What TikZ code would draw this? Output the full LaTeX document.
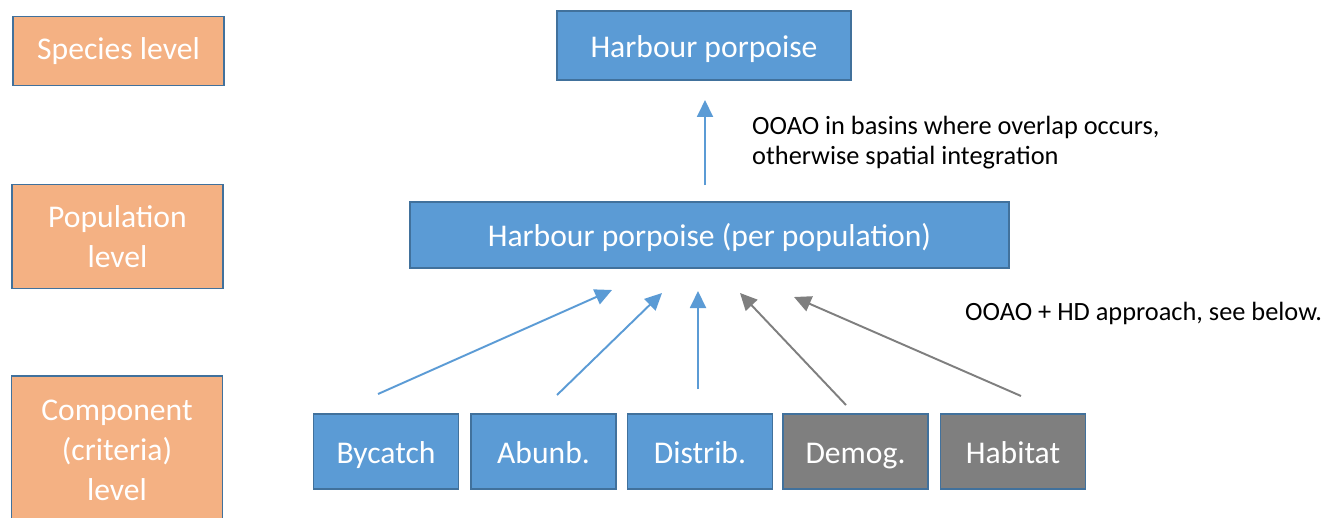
\documentclass[tikz,border=0pt]{standalone}
\usepackage{fontspec}
\setmainfont{Carlito}
\usetikzlibrary{arrows.meta,positioning}
\definecolor{boxblue}{HTML}{5B9BD5}
\definecolor{edgeblue}{HTML}{41719C}
\definecolor{levelorange}{HTML}{F4B183}
\definecolor{boxgray}{HTML}{7F7F7F}

\begin{document}
\begin{tikzpicture}[x=0.02cm,y=-0.02cm,>={Triangle[length=0.34cm,width=0.32cm]},
box/.style = {draw=edgeblue, line width=0.9pt, text=white, align=center, inner sep=0pt, font=\fontsize{18}{22.7}\selectfont},
level/.style = {box, fill=levelorange, minimum width=4.22cm},
single/.style = {box, text height=17pt, text depth=3.5pt},
crit/.style = {single, minimum width=2.9cm, minimum height=1.5cm},
link/.style = {->, line width=1.1pt},
note/.style = {anchor=west, align=left, font=\fontsize{15}{17}\selectfont},]
\clip (0,0) rectangle (1327,517);
% levels
\node (species) at (118.5,51)[level,minimum height=1.38cm] {Species level};
\node (population) at (117.5,236.5)[level,minimum height=2.08cm] {Population\\level};
\node (component) at (117,450)[level,minimum height=2.96cm] {Component\\(criteria)\\level};
% assessment boxes
\node (hp) at (704,45.5)[single,fill=boxblue,minimum width=5.88cm,minimum height=1.38cm] {Harbour porpoise};
\node (hppop) at (709.5,235)[single,fill=boxblue,minimum width=11.98cm,minimum height=1.32cm] {Harbour porpoise (per population)};
\node (bycatch) at (386,451.5)[crit,fill=boxblue] {Bycatch};
\node (abunb) at (543.5,451.5)[crit,fill=boxblue] {Abunb.};
\node (distrib) at (700,451.5)[crit,fill=boxblue] {Distrib.};
\node (demog) at (855.5,451.5)[crit,fill=boxgray] {Demog.};
\node (habitat) at (1013,451.5)[crit,fill=boxgray] {Habitat};
% arrow ends
\coordinate (up-from) at (705,185);
\coordinate (up-to) at (705,100);
\coordinate (bycatch-out) at (378,394);
\coordinate (bycatch-in) at (612,290);
\coordinate (abunb-out) at (557,395);
\coordinate (abunb-in) at (662,293);
\coordinate (distrib-out) at (698,389);
\coordinate (distrib-in) at (698,291);
\coordinate (demog-out) at (846,405);
\coordinate (demog-in) at (740,293);
\coordinate (habitat-out) at (1021,396);
\coordinate (habitat-in) at (794,297);
\draw[link,boxblue] (up-from)--(up-to);
\draw[link,boxblue] (bycatch-out)--(bycatch-in);
\draw[link,boxblue] (abunb-out)--(abunb-in);
\draw[link,boxblue] (distrib-out)--(distrib-in);
\draw[link,boxgray] (demog-out)--(demog-in);
\draw[link,boxgray] (habitat-out)--(habitat-in);
% notes
\node (ooao) at (746,143)[note] {OOAO in basins where overlap occurs,\\otherwise spatial integration};
\node (hd) at (959,313)[note] {OOAO + HD approach, see below.};
\end{tikzpicture}
\end{document}
